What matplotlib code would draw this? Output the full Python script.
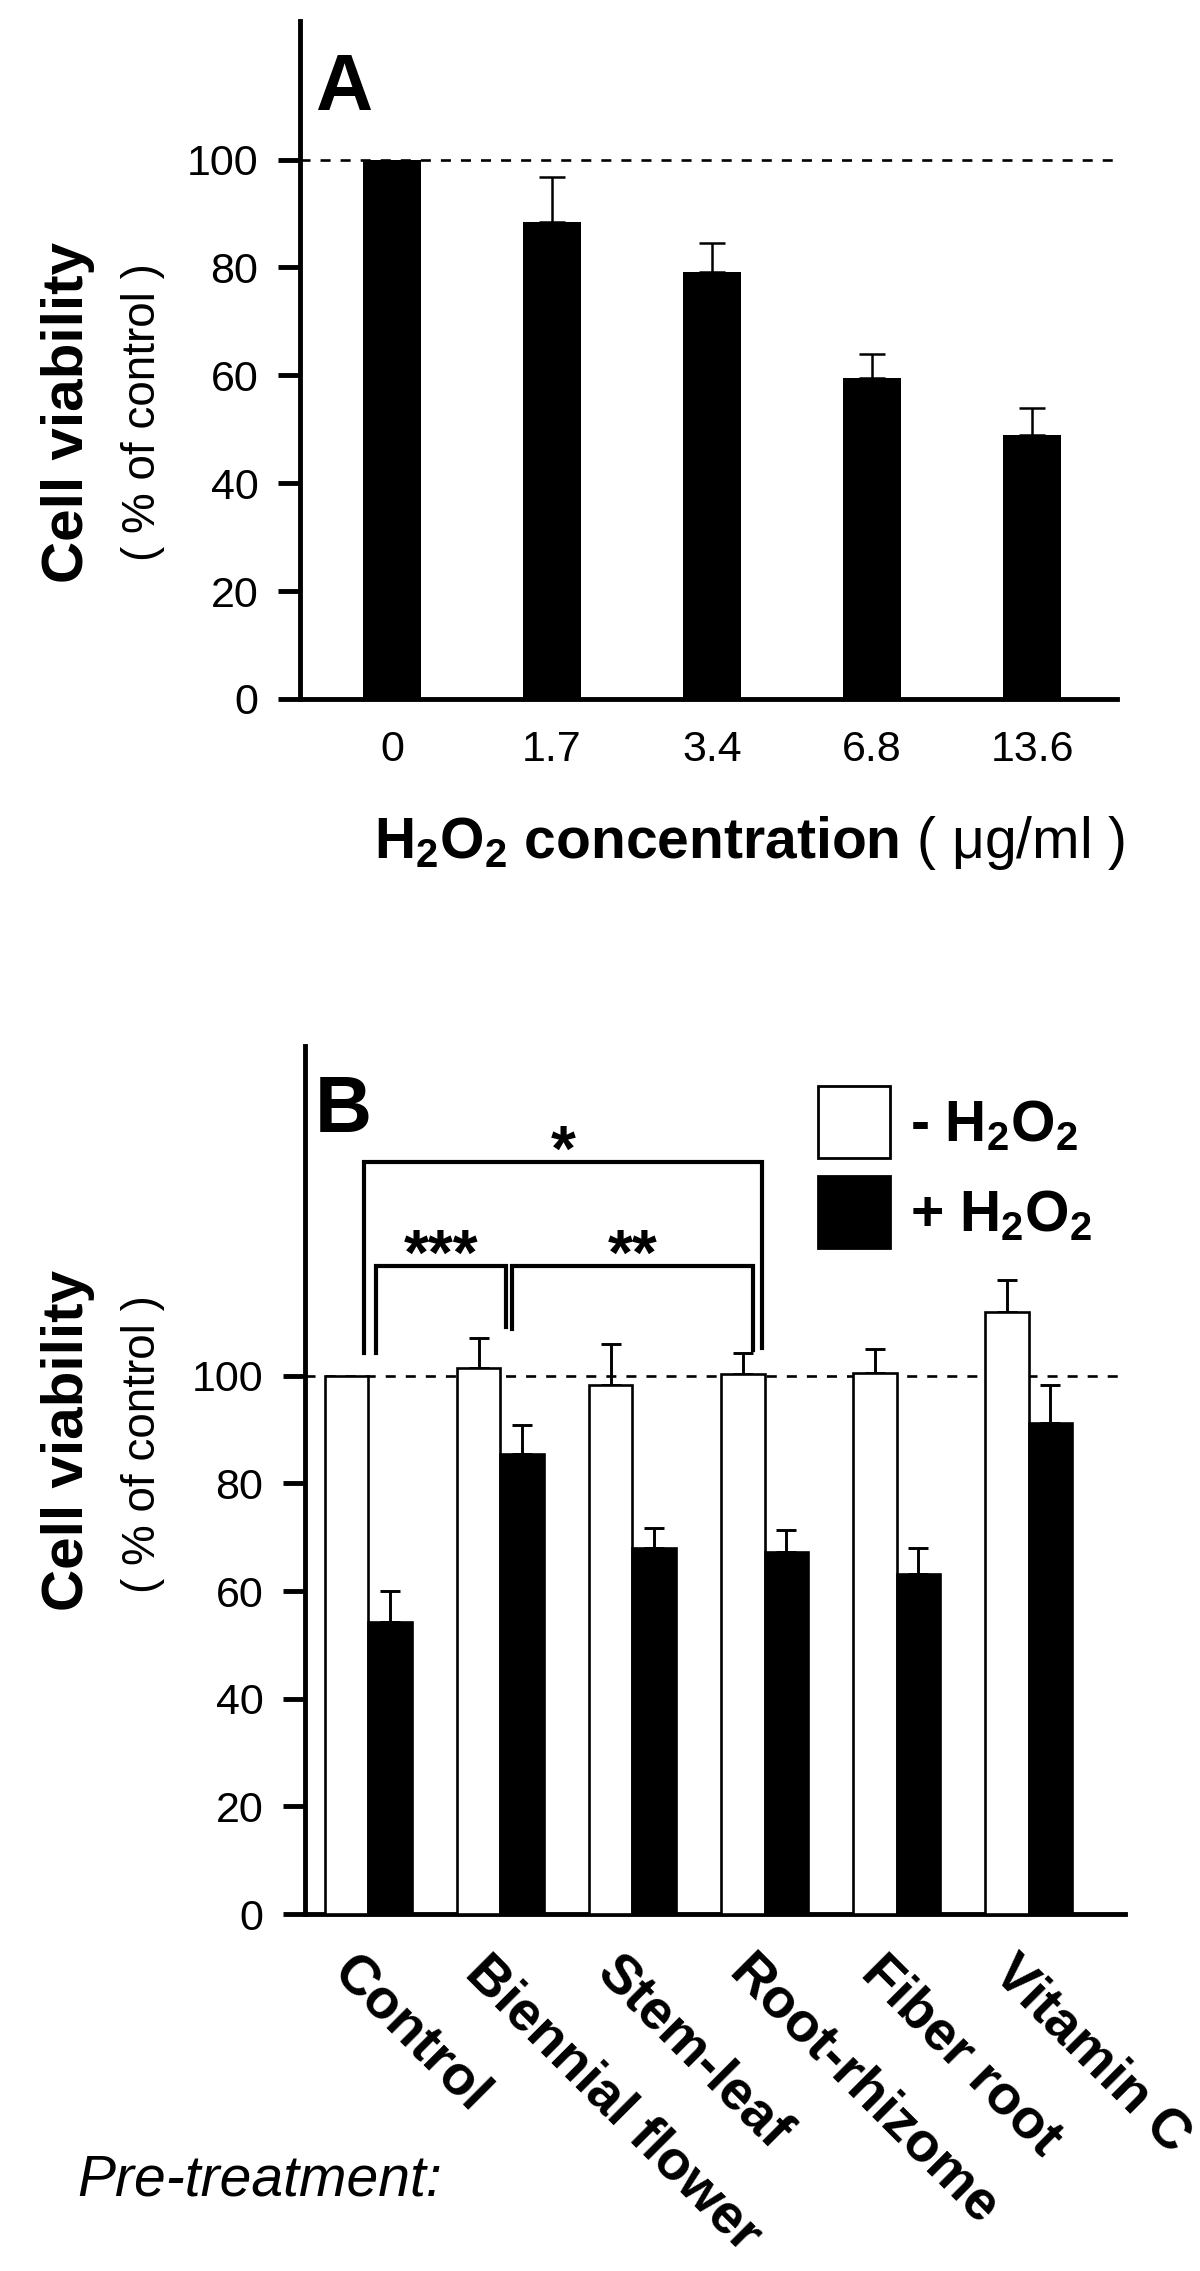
import matplotlib
matplotlib.use('Agg')
import matplotlib.pyplot as plt
from matplotlib.patches import Patch
import numpy as np

plt.rcParams['font.family'] = ['Liberation Sans', 'DejaVu Sans']
plt.rcParams['mathtext.fontset'] = 'custom'
plt.rcParams['mathtext.rm'] = 'Liberation Sans'
plt.rcParams['mathtext.bf'] = 'Liberation Sans:bold'
plt.rcParams['mathtext.it'] = 'Liberation Sans:italic'
plt.rcParams['mathtext.default'] = 'bf'

# ---------------- data ----------------
# Panel A
conc_labels = ['0', '1.7', '3.4', '6.8', '13.6']
viab_A = [100, 88.5, 79.2, 59.5, 49.0]
err_A = [0, 8.3, 5.4, 4.5, 5.0]

# Panel B
treatments = ['Control', 'Biennial flower', 'Stem-leaf', 'Root-rhizome',
              'Fiber root', 'Vitamin C']
viab_minus = [100, 101.4, 98.3, 100.4, 100.6, 111.8]
err_minus = [0, 5.6, 7.6, 3.9, 4.4, 6.0]
viab_plus = [54.2, 85.4, 68.1, 67.3, 63.1, 91.2]
err_plus = [5.8, 5.5, 3.7, 4.1, 5.0, 7.1]

yticks = [0, 20, 40, 60, 80, 100]

# significance brackets: group1, group2, x-offsets, top level, leg ends, label
brackets = [
    (0, 3, -0.03, -0.02, 139.8, 104.3, 105.2, '*'),
    (0, 1, 0.06, 0.04, 120.4, 104.3, 109.1, '***'),
    (1, 3, 0.09, -0.09, 120.4, 108.7, 104.8, '**'),
]

W, H = 1200, 2271
fig = plt.figure(figsize=(W / 100, H / 100), dpi=100)


def fx(px):
    return px / W


def fy(py):
    return 1 - py / H


SPINE_LW = 3.5


def style_axes(ax):
    for s in ['top', 'right']:
        ax.spines[s].set_visible(False)
    for s in ['left', 'bottom']:
        ax.spines[s].set_linewidth(SPINE_LW)
    ax.set_yticks(yticks)
    ax.tick_params(axis='y', direction='out', length=16, width=SPINE_LW,
                   labelsize=31, pad=14)
    ax.axhline(100, color='black', lw=1.9, ls=(0, (3.8, 3.8)), zorder=1)


# ---------------- Panel A ----------------
axA = fig.add_axes([fx(300), fy(699), fx(1117) - fx(300), fy(21) - fy(699)])
xA = np.arange(len(conc_labels))
axA.bar(xA, viab_A, width=0.3625, color='black', zorder=3)
mA = np.array(err_A) > 0
axA.errorbar(xA[mA], np.array(viab_A)[mA],
             yerr=[np.zeros(mA.sum()), np.array(err_A)[mA]],
             fmt='none', ecolor='black', elinewidth=1.8, capsize=9.7,
             capthick=1.8, zorder=2)
axA.set_xlim(-0.575, 4.53)
axA.set_ylim(0, 125.7)
style_axes(axA)
axA.set_xticks(xA)
axA.set_xticklabels(conc_labels)
axA.tick_params(axis='x', length=0, labelsize=31, pad=22)

fig.text(fx(315), fy(110), 'A', fontsize=57, fontweight='bold',
         ha='left', va='baseline')
fig.text(fx(1125), fy(858),
         r'H$_2$O$_2$ concentration $\mathrm{(\ \mu g/ml\ )}$',
         fontsize=41, fontweight='bold', ha='right', va='baseline')
fig.text(fx(68), fy(412), 'Cell viability', rotation=90, fontsize=42,
         fontweight='bold', ha='center', va='center')
fig.text(fx(143), fy(412), '( % of control )', rotation=90, fontsize=33,
         ha='center', va='center')

# ---------------- Panel B ----------------
axB = fig.add_axes([fx(305), fy(1914), fx(1125) - fx(305), fy(1046) - fy(1914)])
xB = np.arange(len(treatments))
w = 0.33
axB.bar(xB - w / 2, viab_minus, width=w, facecolor='white', edgecolor='black',
        linewidth=1.9, zorder=3)
axB.bar(xB + w / 2, viab_plus, width=w, facecolor='black', edgecolor='black',
        linewidth=1.9, zorder=3)
mm = np.array(err_minus) > 0
axB.errorbar((xB - w / 2)[mm], np.array(viab_minus)[mm],
             yerr=[np.zeros(mm.sum()), np.array(err_minus)[mm]],
             fmt='none', ecolor='black', elinewidth=2.1, capsize=7.2,
             capthick=2.1, zorder=2)
mp = np.array(err_plus) > 0
axB.errorbar((xB + w / 2)[mp], np.array(viab_plus)[mp],
             yerr=[np.zeros(mp.sum()), np.array(err_plus)[mp]],
             fmt='none', ecolor='black', elinewidth=2.1, capsize=7.2,
             capthick=2.1, zorder=2)
axB.set_xlim(-0.48, 5.73)
axB.set_ylim(0, 161.3)
style_axes(axB)
# label anchors sit slightly left of each group centre
axB.set_xticks(xB - 0.07)
axB.set_xticklabels(treatments, rotation=-45, rotation_mode='anchor',
                    ha='left', va='top', fontsize=40, fontweight='bold')
axB.tick_params(axis='x', length=0, pad=23)

for g1, g2, d1, d2, ytop, y1, y2, lab in brackets:
    xa, xb = g1 + d1, g2 + d2
    axB.plot([xa, xa, xb, xb], [y1, ytop, ytop, y2], color='black', lw=3.0,
             solid_joinstyle='miter', clip_on=False, zorder=4)
    axB.text((xa + xb) / 2, ytop - 1.7, lab, fontsize=46, fontweight='bold',
             ha='center', va='baseline', zorder=4)

handles = [Patch(facecolor='white', edgecolor='black', linewidth=2.0),
           Patch(facecolor='black', edgecolor='black', linewidth=2.0)]
labels = [r'- H$_2$O$_2$', r'+ H$_2$O$_2$']
axB.legend(handles, labels, loc='upper left',
           bbox_to_anchor=(fx(818), fy(1086)), bbox_transform=fig.transFigure,
           frameon=False, prop={'weight': 'bold', 'size': 41},
           handlelength=1.263, handleheight=1.566, handletextpad=0.35,
           labelspacing=0.32, borderpad=0, borderaxespad=0)

fig.text(fx(315), fy(1132), 'B', fontsize=57, fontweight='bold',
         ha='left', va='baseline')
fig.text(fx(68), fy(1440), 'Cell viability', rotation=90, fontsize=42,
         fontweight='bold', ha='center', va='center')
fig.text(fx(143), fy(1444), '( % of control )', rotation=90, fontsize=33,
         ha='center', va='center')
fig.text(fx(77), fy(2195), 'Pre-treatment:', fontsize=41, style='italic',
         ha='left', va='baseline')

fig.savefig('out.png', dpi=100)
